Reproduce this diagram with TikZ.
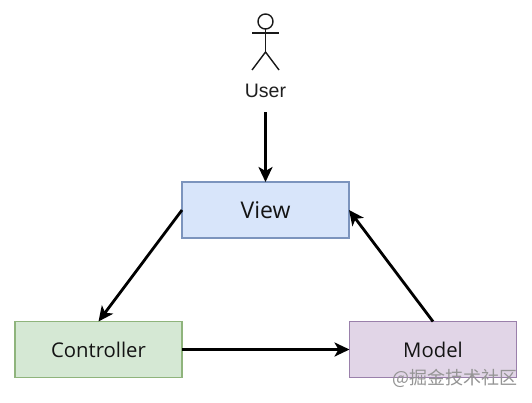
\documentclass[tikz,border=0pt]{standalone}
\usepackage{fontspec}
\setmainfont{Open Sans}
\newfontfamily\usrfont{Liberation Sans}
\newfontfamily\cjkwm{Noto Sans CJK SC}
\usetikzlibrary{arrows.meta}
\definecolor{bluef}{HTML}{D8E5FA}
\definecolor{blued}{HTML}{7C94BD}
\definecolor{greenf}{HTML}{D5E8D4}
\definecolor{greend}{HTML}{8FB47C}
\definecolor{purplef}{HTML}{E1D5E7}
\definecolor{purpled}{HTML}{9A80AB}
\tikzset{
  box/.style={draw=#1, line width=1.1pt, minimum width=167pt, minimum height=56pt, inner sep=0pt, outer sep=0pt, text=black!92},
  conn/.style={draw=black, line width=2.8pt, -{Stealth[length=15pt,width=14pt,inset=4pt]}},
  stick/.style={draw=black!90, line width=1.4pt},
}
\begin{document}
\begin{tikzpicture}[x=1pt,y=-1pt]
\useasboundingbox (0,0) rectangle (532,402);
\fill[white] (0,0) rectangle (532,402);
\node[box=blued, fill=bluef, font=\fontsize{23}{25}\selectfont] (view) at (265.5,210) {View};
\node[box=greend, fill=greenf, font=\fontsize{20.3}{23}\selectfont] (controller) at (98.5,349.5) {Controller};
\node[box=purpled, fill=purplef, font=\fontsize{20.3}{23}\selectfont] (model) at (433,349.5) {Model};
\node[inner sep=0pt, outer sep=0pt, minimum height=42pt, font=\usrfont\fontsize{19.5}{22}\selectfont, text=black!88] (user) at (265.5,91) {User};
% stick figure
\draw[stick] (265.5,21.5) circle (7.5);
\draw[stick] (265.5,29) -- (265.5,52);
\draw[stick] (252,33) -- (279,33);
\draw[stick] (252,70) -- (265.5,52) -- (279,70);
% connectors
\draw[conn] (user.south) -- (view.north);
\draw[conn] (view.west) -- (controller.north);
\draw[conn] (controller.east) -- (model.west);
\draw[conn] (model.north) -- (view.east);
\node[anchor=east, inner sep=0pt, text=black!42, font=\cjkwm\fontsize{18}{20}\selectfont] (wm) at (518,378) {@掘金技术社区};
\end{tikzpicture}
\end{document}
